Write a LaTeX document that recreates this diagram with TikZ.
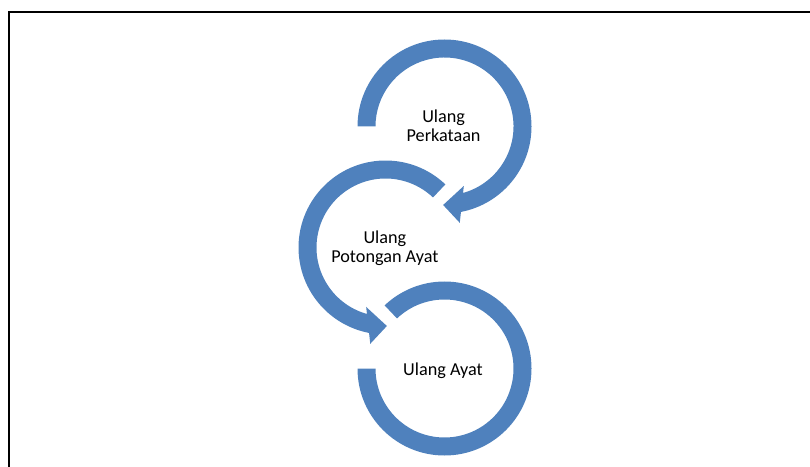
\documentclass[tikz,border=0pt]{standalone}
\usepackage{fontspec}
\setmainfont{Carlito}
\usetikzlibrary{calc}
\definecolor{ringblue}{HTML}{4F81BD}
\begin{document}
\begin{tikzpicture}[x=1pt,y=1pt,
  ring/.style={fill=ringblue, draw=none},
  lbl/.style={align=center, inner sep=0pt, font=\fontsize{18.2}{19.2}\selectfont, text=black},
  frameline/.style={line width=2pt, draw=black}]
\useasboundingbox (0,0) rectangle (810,466);
\draw[frameline] (9,-3) -- (9,454.2) -- (813,454.2);
\coordinate (c1) at (444.5,339.5);
\coordinate (c2) at (385.5,218.5);
\coordinate (c3) at (444.5,97.5);
% top ring with arrow
\fill[ring] ($(c1)+(180:87)$) arc[start angle=180,end angle=-79.1,radius=87]
  -- ($(c1)+(-81:97.5)$) -- ($(c1)+(-91:78.5)$) -- ($(c1)+(-72:62.5)$)
  -- ($(c1)+(-74.4:69)$) arc[start angle=-74.4,end angle=180,radius=69] -- cycle;
% middle ring with arrow
\fill[ring] ($(c2)+(46.5:87)$) arc[start angle=46.5,end angle=259.1,radius=87]
  -- ($(c2)+(261:97.5)$) -- ($(c2)+(271:78.5)$) -- ($(c2)+(252:62.5)$)
  -- ($(c2)+(254.4:69)$) arc[start angle=254.4,end angle=46.5,radius=69] -- cycle;
% bottom ring
\fill[ring] ($(c3)+(180:87)$) arc[start angle=180,end angle=493.5,radius=87]
  -- ($(c3)+(493.5:69)$) arc[start angle=493.5,end angle=180,radius=69] -- cycle;
\node[lbl] (t1) at (443.6,340.1) {Ulang\\Perkataan};
\node[lbl] (t2) at (384.9,217.5) {Ulang\\Potongan Ayat};
\node[lbl] (t3) at (443,95.45) {Ulang Ayat};
\end{tikzpicture}
\end{document}
